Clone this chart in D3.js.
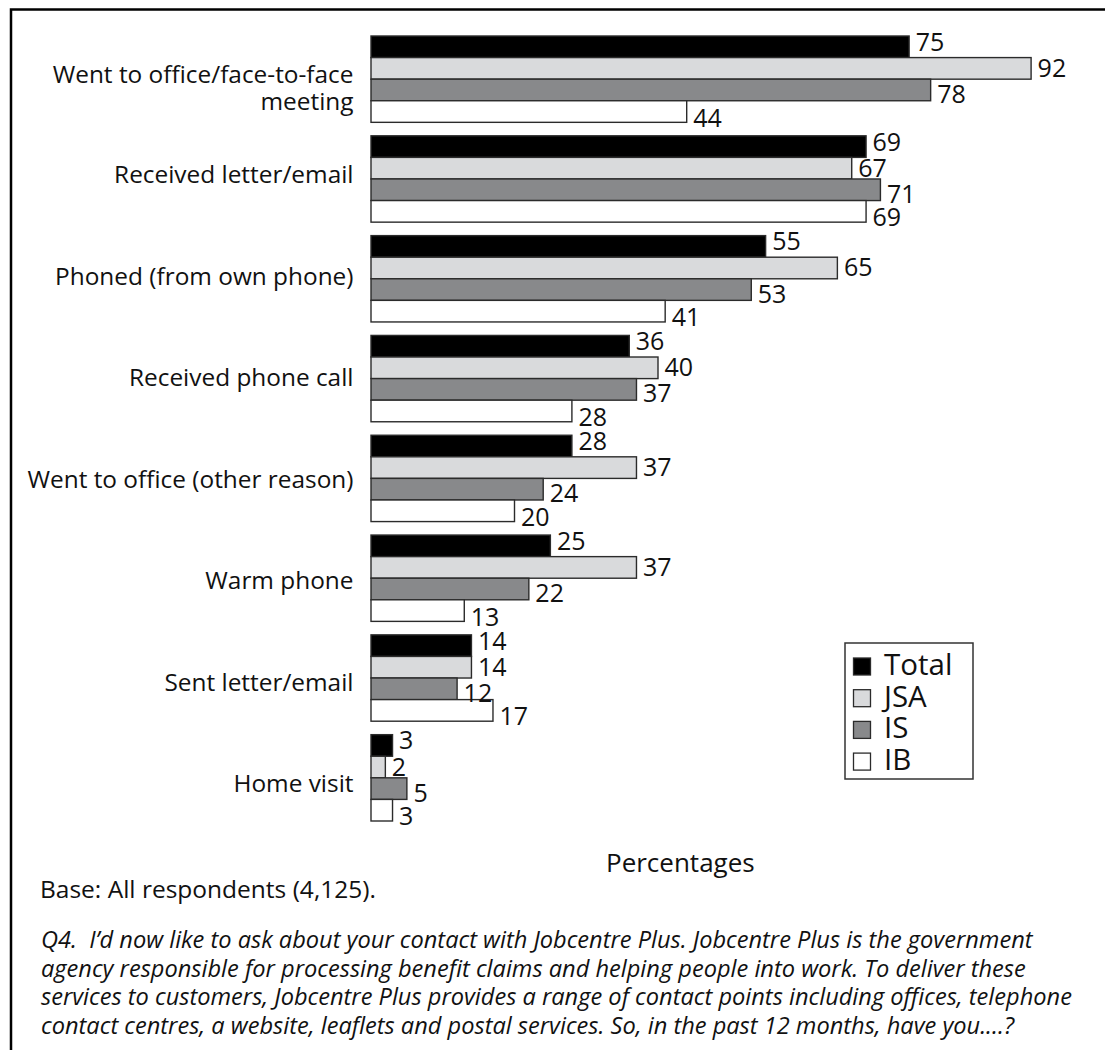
<!DOCTYPE html>
<html>
<head>
<meta charset="utf-8">
<script src="https://cdn.jsdelivr.net/npm/d3@7/dist/d3.min.js"></script>
<style>
  html, body { margin: 0; padding: 0; background: #fff; }
  svg { display: block; }
  text { font-family: "Open Sans", "Noto Sans", sans-serif; fill: #111; }
</style>
</head>
<body>
<svg id="chart" width="1105" height="1050"></svg>
<script>
// ---- data ----
const categories = [
  "Went to office/face-to-face meeting",
  "Received letter/email",
  "Phoned (from own phone)",
  "Received phone call",
  "Went to office (other reason)",
  "Warm phone",
  "Sent letter/email",
  "Home visit"
];
const categoryLines = [
  ["Went to office/face-to-face", "meeting"],
  ["Received letter/email"],
  ["Phoned (from own phone)"],
  ["Received phone call"],
  ["Went to office (other reason)"],
  ["Warm phone"],
  ["Sent letter/email"],
  ["Home visit"]
];
const seriesNames = ["Total", "JSA", "IS", "IB"];
const totalValues = [75, 69, 55, 36, 28, 25, 14, 3];
const jsaValues   = [92, 67, 65, 40, 37, 37, 14, 2];
const isValues    = [78, 71, 53, 37, 24, 22, 12, 5];
const ibValues    = [44, 69, 41, 28, 20, 13, 17, 3];
const seriesValues = [totalValues, jsaValues, isValues, ibValues];

const baseText = "Base: All respondents (4,125).";
const axisTitle = "Percentages";
const questionLines = [
  "Q4.\u00a0 I\u2019d now like to ask about your contact with Jobcentre Plus. Jobcentre Plus is the government",
  "agency responsible for processing benefit claims and helping people into work. To deliver these",
  "services to customers, Jobcentre Plus provides a range of contact points including offices, telephone",
  "contact centres, a website, leaflets and postal services. So, in the past 12 months, have you....?"
];

// ---- styles ----
const colors = ["#000000", "#d9dadc", "#88898b", "#ffffff"];
const labelDy = [-5, -0.5, 4, 6];

const svg = d3.select("#chart");

// frame (top and left rules)
svg.append("path")
  .attr("d", "M11,1050 V9.5 H1105")
  .attr("fill", "none")
  .attr("stroke", "#000")
  .attr("stroke-width", 2.5);

// scales
const x = d3.scaleLinear().domain([0, 100]).range([371, 1088.5]);
const y = d3.scaleBand().domain(categories).range([36, 821]).paddingInner(0.135).paddingOuter(0);
const ySub = d3.scaleBand().domain(seriesNames).range([0, y.bandwidth()]).padding(0);
const yLabel = d3.scalePoint().domain(categories).range([81.8, 792.3]);

// bars
const data = [];
categories.forEach((c, i) => {
  seriesNames.forEach((s, j) => {
    data.push({ cat: c, series: s, si: j, value: seriesValues[j][i] });
  });
});

const g = svg.append("g");
g.selectAll("rect.bar").data(data).enter().append("rect")
  .attr("class", "bar")
  .attr("x", x(0))
  .attr("y", d => y(d.cat) + ySub(d.series))
  .attr("width", d => x(d.value) - x(0))
  .attr("height", ySub.bandwidth())
  .attr("fill", d => colors[d.si])
  .attr("stroke", "#2b2b2b")
  .attr("stroke-width", 1.4);

// value labels
g.selectAll("text.val").data(data).enter().append("text")
  .attr("class", "val")
  .attr("x", d => x(d.value) + 6.5)
  .attr("y", d => y(d.cat) + ySub(d.series) + ySub.bandwidth() / 2 + labelDy[d.si])
  .attr("dy", "0.36em")
  .attr("font-size", 25)
  .text(d => d.value);

// category labels
const catG = svg.append("g");
categories.forEach((c, i) => {
  const lines = categoryLines[i];
  const t = catG.append("text")
    .attr("text-anchor", "end")
    .attr("font-size", 24.4);
  lines.forEach((ln, k) => {
    t.append("tspan")
      .attr("x", 353.5)
      .attr("y", yLabel(c) + (lines.length > 1 ? 1.5 + k * 27 : 0))
      .text(ln);
  });
});

// legend
const leg = svg.append("g").attr("transform", "translate(845,643)");
leg.append("rect")
  .attr("width", 128).attr("height", 136)
  .attr("fill", "#fff").attr("stroke", "#333").attr("stroke-width", 1.5);
const legItems = leg.selectAll("g.item").data(seriesNames).enter().append("g")
  .attr("class", "item")
  .attr("transform", (d, i) => `translate(0,${32 + i * 31.7})`);
legItems.append("rect")
  .attr("x", 8.5).attr("y", -17).attr("width", 17).attr("height", 17)
  .attr("fill", (d, i) => colors[i]).attr("stroke", "#2b2b2b").attr("stroke-width", 1.3);
legItems.append("text")
  .attr("x", 39).attr("y", 0)
  .attr("font-size", 29.5)
  .text(d => d);

// axis title
svg.append("text")
  .attr("x", 606).attr("y", 872)
  .attr("font-size", 26)
  .text(axisTitle);

// base note
svg.append("text")
  .attr("x", 40).attr("y", 898)
  .attr("font-size", 24.5)
  .text(baseText);

// question
const q = svg.append("text")
  .attr("font-size", 23.6)
  .attr("font-style", "italic");
questionLines.forEach((ln, k) => {
  q.append("tspan").attr("x", 41).attr("y", 948 + k * 28.6).text(ln);
});
</script>
</body>
</html>
